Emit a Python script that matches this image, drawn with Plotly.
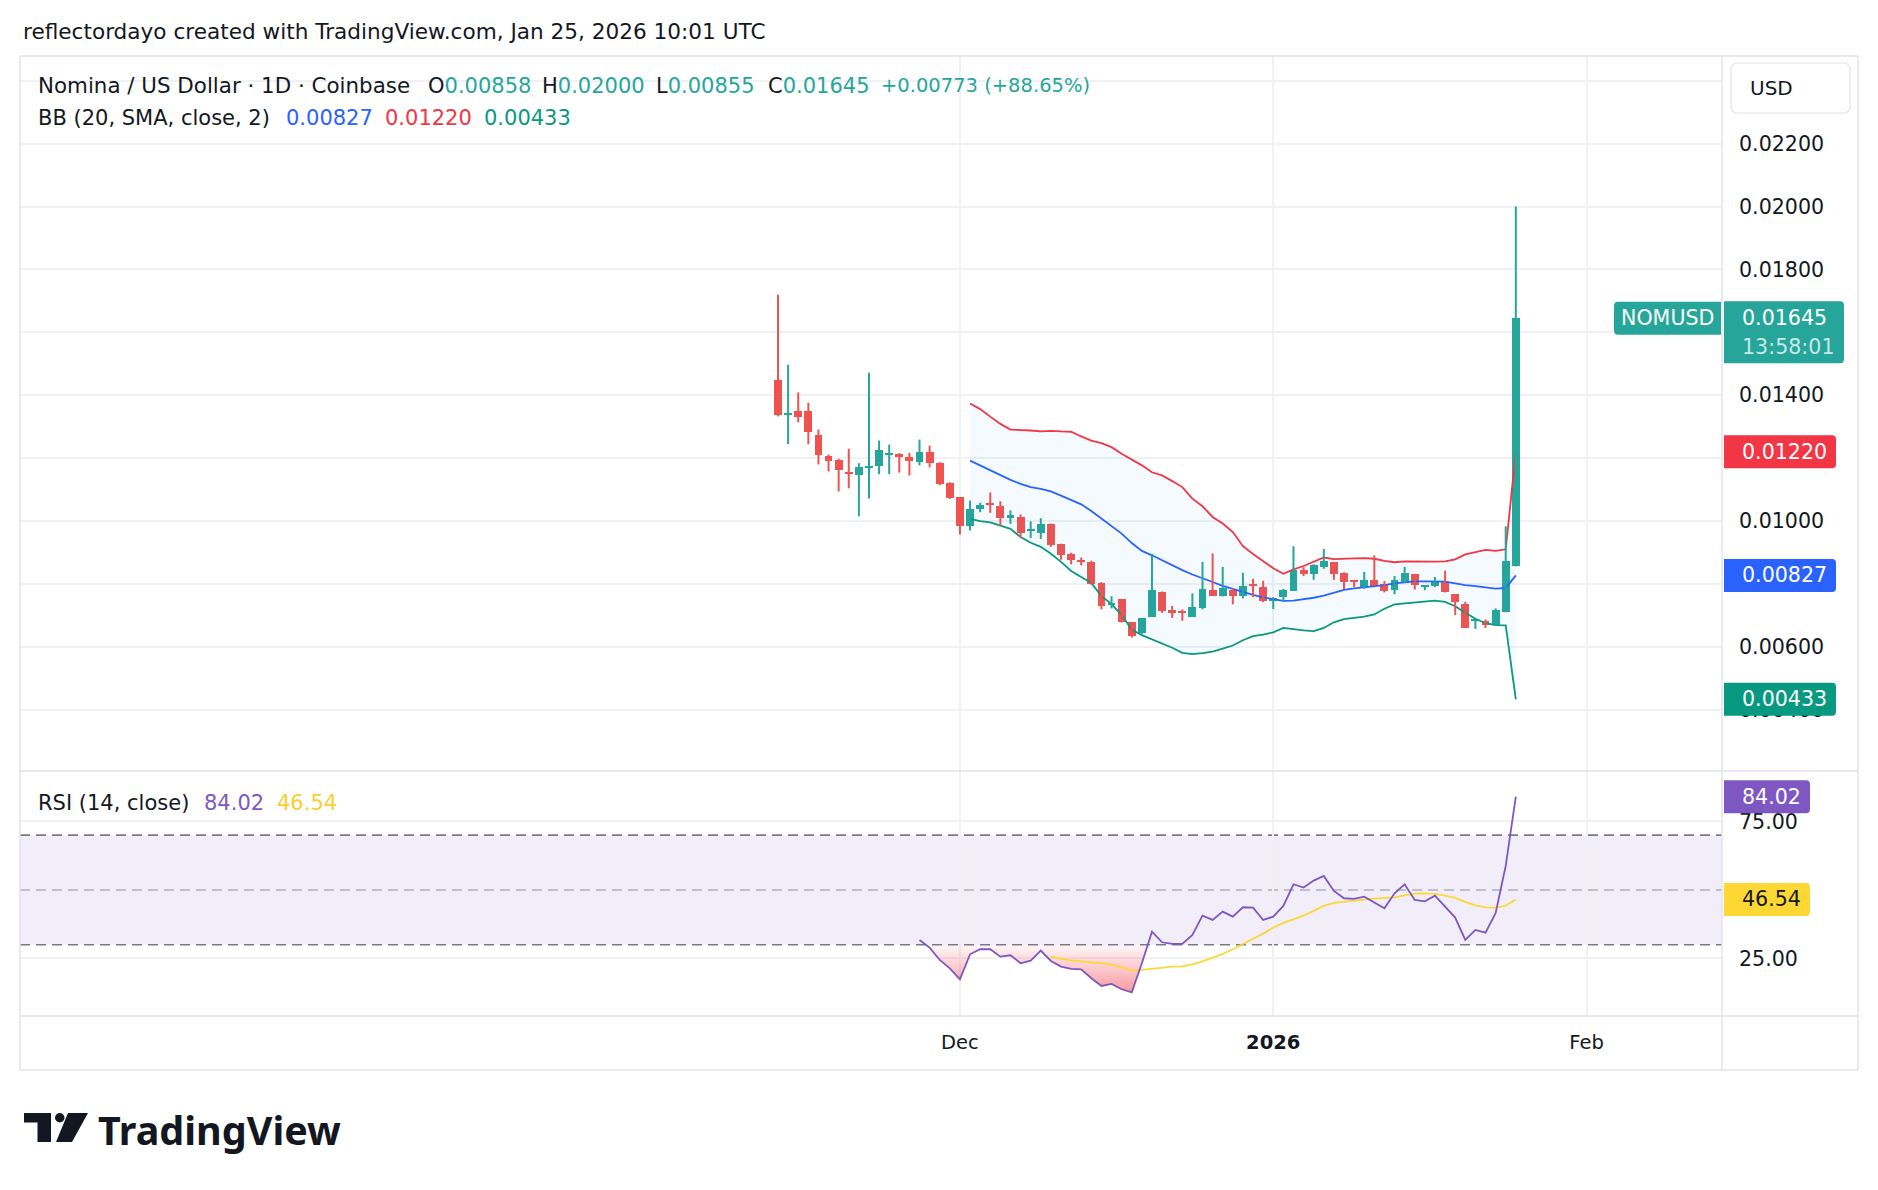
import plotly.graph_objects as go
import pandas as pd

W, H = 1878, 1190
FONT = "DejaVu Sans"
LOGO_FONT = "Noto Sans"
TXT = "#131722"
UP, DOWN = "#26a69a", "#ef5350"
BB_UP_C, BB_MID_C, BB_LO_C = "#f23645", "#2962ff", "#089981"
RSI_C, MA_C = "#7e57c2", "#fdd835"
GRID = "#f0f1f4"
FRAME = "#e0e3eb"

# ---------------- data (daily candles from 2025-11-13) ----------------
start_date = "2025-11-13"
opens = [0.01450, 0.01338, 0.01351, 0.01351, 0.01275, 0.01208, 0.01195, 0.01157, 0.01145, 0.01169,
         0.01174, 0.01212, 0.01214, 0.01205, 0.01189, 0.01221, 0.01186, 0.01122, 0.01075, 0.00984,
         0.01039, 0.01056, 0.01048, 0.01010, 0.01013, 0.00968, 0.00962, 0.00989, 0.00926, 0.00894,
         0.00877, 0.00869, 0.00802, 0.00732, 0.00751, 0.00678, 0.00643, 0.00696, 0.00774, 0.00717,
         0.00715, 0.00696, 0.00723, 0.00781, 0.00760, 0.00781, 0.00763, 0.00799, 0.00790, 0.00747,
         0.00758, 0.00779, 0.00844, 0.00830, 0.00855, 0.00870, 0.00835, 0.00813, 0.00790, 0.00813,
         0.00801, 0.00780, 0.00805, 0.00832, 0.00793, 0.00792, 0.00805, 0.00768, 0.00737, 0.00683,
         0.00683, 0.00668, 0.00710, 0.00858]
highs = [0.01720, 0.01497, 0.01409, 0.01376, 0.01291, 0.01212, 0.01198, 0.01230, 0.01184, 0.01472,
         0.01256, 0.01243, 0.01216, 0.01217, 0.01259, 0.01240, 0.01187, 0.01123, 0.01076, 0.01065,
         0.01058, 0.01091, 0.01063, 0.01034, 0.01021, 0.00999, 0.01009, 0.00992, 0.00928, 0.00899,
         0.00884, 0.00874, 0.00806, 0.00761, 0.00751, 0.00678, 0.00691, 0.00896, 0.00776, 0.00730,
         0.00719, 0.00770, 0.00870, 0.00897, 0.00854, 0.00786, 0.00835, 0.00816, 0.00810, 0.00758,
         0.00784, 0.00920, 0.00853, 0.00863, 0.00911, 0.00870, 0.00837, 0.00813, 0.00838, 0.00891,
         0.00809, 0.00825, 0.00854, 0.00832, 0.00796, 0.00822, 0.00842, 0.00768, 0.00743, 0.00687,
         0.00687, 0.00722, 0.00983, 0.02000]
lows = [0.01333, 0.01245, 0.01314, 0.01244, 0.01180, 0.01158, 0.01094, 0.01104, 0.01015, 0.01072,
        0.01149, 0.01149, 0.01154, 0.01145, 0.01177, 0.01171, 0.01114, 0.01070, 0.00957, 0.00970,
        0.01028, 0.01026, 0.00985, 0.00991, 0.00947, 0.00946, 0.00943, 0.00918, 0.00877, 0.00862,
        0.00859, 0.00798, 0.00719, 0.00722, 0.00677, 0.00629, 0.00641, 0.00696, 0.00708, 0.00692,
        0.00683, 0.00696, 0.00719, 0.00762, 0.00760, 0.00735, 0.00754, 0.00758, 0.00742, 0.00720,
        0.00744, 0.00779, 0.00825, 0.00813, 0.00848, 0.00813, 0.00783, 0.00790, 0.00784, 0.00794,
        0.00773, 0.00767, 0.00803, 0.00782, 0.00780, 0.00790, 0.00773, 0.00701, 0.00660, 0.00657,
        0.00660, 0.00668, 0.00710, 0.00855]
closes = [0.01338, 0.01345, 0.01330, 0.01282, 0.01209, 0.01192, 0.01161, 0.01152, 0.01173, 0.01173,
          0.01226, 0.01217, 0.01203, 0.01190, 0.01218, 0.01184, 0.01117, 0.01072, 0.00984, 0.01039,
          0.01052, 0.01052, 0.01009, 0.01018, 0.00962, 0.00975, 0.00989, 0.00923, 0.00893, 0.00875,
          0.00872, 0.00800, 0.00730, 0.00740, 0.00678, 0.00635, 0.00691, 0.00780, 0.00715, 0.00706,
          0.00709, 0.00728, 0.00784, 0.00763, 0.00788, 0.00763, 0.00794, 0.00794, 0.00745, 0.00755,
          0.00782, 0.00844, 0.00832, 0.00859, 0.00873, 0.00830, 0.00807, 0.00806, 0.00813, 0.00794,
          0.00776, 0.00813, 0.00835, 0.00796, 0.00796, 0.00809, 0.00773, 0.00743, 0.00660, 0.00687,
          0.00668, 0.00716, 0.00872, 0.01645]

# Bollinger Bands (20, SMA, close, 2), first value on 2025-12-02
bb_upper = [0.01374, 0.01356, 0.01332, 0.01309, 0.01291, 0.01290, 0.01288, 0.01285, 0.01287, 0.01285,
            0.01284, 0.01269, 0.01256, 0.01248, 0.01235, 0.01214, 0.01196, 0.01177, 0.01155, 0.01145,
            0.01127, 0.01108, 0.01071, 0.01047, 0.01013, 0.00992, 0.00965, 0.00920, 0.00895, 0.00871,
            0.00850, 0.00832, 0.00846, 0.00857, 0.00871, 0.00884, 0.00879, 0.00879, 0.00881, 0.00882,
            0.00880, 0.00873, 0.00869, 0.00872, 0.00871, 0.00871, 0.00871, 0.00872, 0.00878, 0.00894,
            0.00900, 0.00908, 0.00905, 0.00910, 0.01220]
bb_basis = [0.01192, 0.01177, 0.01161, 0.01145, 0.01131, 0.01118, 0.01108, 0.01102, 0.01094, 0.01081,
            0.01068, 0.01053, 0.01032, 0.01007, 0.00983, 0.00960, 0.00930, 0.00905, 0.00891, 0.00875,
            0.00859, 0.00844, 0.00830, 0.00819, 0.00806, 0.00794, 0.00784, 0.00774, 0.00765, 0.00757,
            0.00752, 0.00746, 0.00747, 0.00751, 0.00756, 0.00763, 0.00773, 0.00781, 0.00786, 0.00789,
            0.00793, 0.00796, 0.00802, 0.00806, 0.00808, 0.00808, 0.00808, 0.00807, 0.00802, 0.00796,
            0.00793, 0.00789, 0.00785, 0.00787, 0.00827]
bb_lower = [0.01007, 0.01000, 0.00996, 0.00986, 0.00975, 0.00949, 0.00931, 0.00918, 0.00896, 0.00870,
            0.00841, 0.00822, 0.00803, 0.00761, 0.00736, 0.00701, 0.00655, 0.00637, 0.00624, 0.00611,
            0.00597, 0.00581, 0.00577, 0.00580, 0.00585, 0.00594, 0.00604, 0.00621, 0.00634, 0.00639,
            0.00646, 0.00660, 0.00655, 0.00652, 0.00650, 0.00660, 0.00678, 0.00688, 0.00692, 0.00696,
            0.00703, 0.00721, 0.00735, 0.00738, 0.00740, 0.00743, 0.00747, 0.00743, 0.00729, 0.00708,
            0.00689, 0.00675, 0.00669, 0.00668, 0.00433]

# RSI (14, close), first value on 2025-11-27; RSI-based MA first value on 2025-12-10
rsi = [31.75, 28.95, 24.45, 21.41, 17.40, 26.52, 28.35, 28.35, 25.67, 26.16,
       23.24, 24.21, 27.86, 24.09, 22.02, 21.17, 21.05, 17.76, 14.96, 15.69,
       13.75, 12.65, 23.24, 34.79, 30.90, 30.29, 30.29, 33.58, 40.63, 39.05,
       42.09, 40.27, 43.67, 43.55, 39.05, 40.27, 44.16, 52.07, 50.85, 53.41,
       55.11, 49.64, 46.96, 46.72, 47.57, 45.38, 43.31, 48.78, 52.07, 46.35,
       45.86, 47.93, 43.92, 39.90, 31.75, 35.40, 34.43, 41.48, 58.76, 84.02]
rsi_ma = [25.67, 24.82, 24.33, 23.97, 23.84, 23.48, 22.87, 21.78, 20.56, 20.80,
          21.29, 21.78, 22.02, 22.14, 22.87, 23.97, 25.18, 26.64, 28.35, 30.17,
          32.24, 34.06, 36.25, 37.96, 39.29, 40.63, 42.34, 44.16, 45.26, 45.74,
          46.11, 46.47, 46.84, 47.08, 47.32, 48.05, 48.66, 48.78, 48.54, 47.93,
          47.08, 45.62, 44.40, 43.67, 43.55, 44.28, 46.54]

price_ticks = [0.004, 0.006, 0.008, 0.010, 0.012, 0.014, 0.016, 0.018, 0.020, 0.022, 0.024]
price_tick_text = ["0.00400", "0.00600", "0.00800", "0.01000", "", "0.01400",
                   "", "0.01800", "0.02000", "0.02200", ""]
rsi_ticks = [25, 75]
rsi_tick_text = ["25.00", "75.00"]
time_ticks = ["2025-12-01", "2026-01-01", "2026-02-01"]
time_tick_text = ["Dec", "<b>2026</b>", "Feb"]

dates = pd.date_range(start_date, periods=len(closes), freq="D")
bb_dates = dates[len(dates) - len(bb_upper):]
rsi_dates = dates[len(dates) - len(rsi):]
ma_dates = dates[len(dates) - len(rsi_ma):]

# ---------------- helpers for layout positions (pixels -> paper) ----------------
def px(x):
    return x / W

def py(y):
    return 1 - y / H

fig = go.Figure()

# Bollinger bands
fig.add_trace(go.Scatter(x=bb_dates, y=bb_upper, mode="lines",
                         line=dict(color=BB_UP_C, width=1.8), xaxis="x", yaxis="y", hoverinfo="skip"))
fig.add_trace(go.Scatter(x=bb_dates, y=bb_lower, mode="lines", fill="tonexty",
                         fillcolor="rgba(33,150,243,0.05)",
                         line=dict(color=BB_LO_C, width=1.8), xaxis="x", yaxis="y", hoverinfo="skip"))
fig.add_trace(go.Scatter(x=bb_dates, y=bb_basis, mode="lines",
                         line=dict(color=BB_MID_C, width=1.8), xaxis="x", yaxis="y", hoverinfo="skip"))

# candles: wicks + bodies
for is_up, col in ((True, UP), (False, DOWN)):
    wx, wy, bx, by, bb = [], [], [], [], []
    for d, o, h, l, c in zip(dates, opens, highs, lows, closes):
        if (c >= o) != is_up:
            continue
        wx += [d, d, None]
        wy += [l, h, None]
        bx.append(d)
        bb.append(min(o, c))
        by.append(max(abs(c - o), 0.00002))
    fig.add_trace(go.Scatter(x=wx, y=wy, mode="lines", line=dict(color=col, width=2),
                             xaxis="x", yaxis="y", hoverinfo="skip"))
    fig.add_trace(go.Bar(x=bx, y=by, base=bb, marker=dict(color=col, line=dict(width=0)),
                         width=86400000 * 0.78, xaxis="x", yaxis="y", hoverinfo="skip"))

# RSI oversold fill (below 30)
fx, fy = [], []
for k in range(len(rsi)):
    if k > 0:
        a, b = rsi[k - 1], rsi[k]
        if (a - 30) * (b - 30) < 0:
            t = (30 - a) / (b - a)
            fx.append(rsi_dates[k - 1] + (rsi_dates[k] - rsi_dates[k - 1]) * t)
            fy.append(30)
    fx.append(rsi_dates[k])
    fy.append(min(rsi[k], 30))
fig.add_trace(go.Scatter(x=fx, y=[30] * len(fx), mode="lines", line=dict(width=0),
                         xaxis="x2", yaxis="y2", hoverinfo="skip"))
fig.add_trace(go.Scatter(x=fx, y=fy, mode="lines", line=dict(width=0), fill="tonexty",
                         fillgradient=dict(type="vertical", start=11, stop=30,
                                           colorscale=[[0, "rgba(242,54,69,0.55)"],
                                                       [1, "rgba(242,54,69,0.04)"]]),
                         xaxis="x2", yaxis="y2", hoverinfo="skip"))
fig.add_trace(go.Scatter(x=ma_dates, y=rsi_ma, mode="lines", line=dict(color=MA_C, width=1.8),
                         xaxis="x2", yaxis="y2", hoverinfo="skip"))
fig.add_trace(go.Scatter(x=rsi_dates, y=rsi, mode="lines", line=dict(color=RSI_C, width=1.8),
                         xaxis="x2", yaxis="y2", hoverinfo="skip"))

# ---------------- axes ----------------
ref_day = pd.Timestamp("2025-12-01")
x_range = [ref_day - pd.Timedelta(days=93.0), ref_day + pd.Timedelta(days=75.4)]
x_dom = [px(20), px(1722)]
axfont = dict(family=FONT, size=20.6, color=TXT)

fig.update_layout(
    width=W, height=H, margin=dict(l=0, r=0, t=0, b=0),
    paper_bgcolor="white", plot_bgcolor="rgba(0,0,0,0)",
    showlegend=False, barmode="overlay", bargap=0,
    font=dict(family=FONT, color=TXT, size=20),
    xaxis=dict(domain=x_dom, range=x_range, type="date", anchor="y",
               tickvals=time_ticks, showticklabels=False, ticks="",
               showgrid=True, gridcolor=GRID, gridwidth=2, zeroline=False, showline=False,
               fixedrange=True),
    xaxis2=dict(domain=x_dom, range=x_range, type="date", anchor="y2", matches="x",
                tickvals=time_ticks, ticktext=time_tick_text, ticks="",
                ticklabelstandoff=12, tickfont=dict(family=FONT, size=19.5, color=TXT),
                showgrid=True, gridcolor=GRID, gridwidth=2, zeroline=False, showline=False),
    yaxis=dict(domain=[py(771), py(56)], range=[0.00205, 0.02479], side="right", anchor="x",
               tickvals=price_ticks, ticktext=price_tick_text, ticks="",
               ticklabelstandoff=16, tickfont=axfont,
               showgrid=True, gridcolor=GRID, gridwidth=2, zeroline=False, showline=False),
    yaxis2=dict(domain=[py(1016), py(771)], range=[4.0, 93.4], side="right", anchor="x2",
                tickvals=rsi_ticks, ticktext=rsi_tick_text, ticks="",
                ticklabelstandoff=16, tickfont=axfont,
                showgrid=True, gridcolor=GRID, gridwidth=2, zeroline=False, showline=False),
)

shapes = []
# RSI background band and level lines
shapes.append(dict(type="rect", xref="x2 domain", yref="y2", x0=0, x1=1, y0=30, y1=70,
                   fillcolor="rgba(126,87,194,0.10)", line=dict(width=0), layer="below"))
for lvl, colr in ((70, "#787b86"), (50, "rgba(120,123,134,0.55)"), (30, "#787b86")):
    shapes.append(dict(type="line", xref="x2 domain", yref="y2", x0=0, x1=1, y0=lvl, y1=lvl,
                       line=dict(color=colr, width=1.6, dash="10px,6px"), layer="below"))

# frame lines
def hline(y, x0=20, x1=1858):
    return dict(type="line", xref="paper", yref="paper", x0=px(x0), x1=px(x1), y0=py(y), y1=py(y),
                line=dict(color=FRAME, width=1.5), layer="above")

def vline(x, y0=56, y1=1070):
    return dict(type="line", xref="paper", yref="paper", x0=px(x), x1=px(x), y0=py(y0), y1=py(y1),
                line=dict(color=FRAME, width=1.5), layer="above")

shapes += [hline(56), hline(771), hline(1016), hline(1070), vline(20), vline(1858), vline(1722)]

# USD box with rounded corners (pixel geometry -> paper)
def rounded_rect_path(x0, y0, x1, y1, r):
    pts = [
        ("M", [(x0 + r, y0)]), ("L", [(x1 - r, y0)]), ("Q", [(x1, y0), (x1, y0 + r)]),
        ("L", [(x1, y1 - r)]), ("Q", [(x1, y1), (x1 - r, y1)]), ("L", [(x0 + r, y1)]),
        ("Q", [(x0, y1), (x0, y1 - r)]), ("L", [(x0, y0 + r)]), ("Q", [(x0, y0), (x0 + r, y0)]),
    ]
    out = []
    for cmd, ps in pts:
        out.append(cmd + " " + " ".join(f"{px(a)},{py(b)}" for a, b in ps))
    return " ".join(out) + " Z"

shapes.append(dict(type="path", xref="paper", yref="paper",
                   path=rounded_rect_path(1731, 63, 1850, 113, 7),
                   line=dict(color="#e0e3eb", width=1.2), fillcolor="white", layer="above"))

# value label boxes (anchored at the value, pixel height), right corners rounded
def vbox(value, yref, color, x0, x1, down=16.5, up=16.5, r=4):
    a, b, rx = px(x0), px(x1), r / W
    path = (f"M {a},{-down} L {b - rx},{-down} Q {b},{-down} {b},{-down + r} "
            f"L {b},{up - r} Q {b},{up} {b - rx},{up} L {a},{up} Z")
    return dict(type="path", xref="paper", yref=yref, ysizemode="pixel", yanchor=value,
                path=path, fillcolor=color, line=dict(width=0), layer="above")

def lbox(value, yref, color, x0, x1, down=16.5, up=16.5, r=4):
    a, b, rx = px(x0), px(x1), r / W
    path = (f"M {a + rx},{-down} L {b},{-down} L {b},{up} L {a + rx},{up} "
            f"Q {a},{up} {a},{up - r} L {a},{-down + r} Q {a},{-down} {a + rx},{-down} Z")
    return dict(type="path", xref="paper", yref=yref, ysizemode="pixel", yanchor=value,
                path=path, fillcolor=color, line=dict(width=0), layer="above")

last_close = closes[-1]
shapes.append(lbox(last_close, "y", UP, 1614, 1721))
shapes.append(vbox(last_close, "y", UP, 1724, 1844, 45, 17))
shapes.append(vbox(bb_upper[-1], "y", BB_UP_C, 1724, 1836))
shapes.append(vbox(bb_basis[-1], "y", BB_MID_C, 1724, 1836))
shapes.append(vbox(bb_lower[-1], "y", BB_LO_C, 1724, 1836))
shapes.append(vbox(rsi[-1], "y2", RSI_C, 1724, 1810))
shapes.append(vbox(rsi_ma[-1], "y2", MA_C, 1724, 1810))

# TradingView logo mark
def poly(points):
    return "M " + " L ".join(f"{px(x)},{py(y)}" for x, y in points) + " Z"

shapes.append(dict(type="path", xref="paper", yref="paper", fillcolor="#131722", line=dict(width=0),
                   path=poly([(24, 1113), (51, 1113), (51, 1142), (37.5, 1142), (37.5, 1122.5), (24, 1122.5)])))
shapes.append(dict(type="circle", xref="paper", yref="paper", fillcolor="#131722", line=dict(width=0),
                   x0=px(55), x1=px(64.5), y0=py(1113), y1=py(1122.5)))
shapes.append(dict(type="path", xref="paper", yref="paper", fillcolor="#131722", line=dict(width=0),
                   path=poly([(68, 1113), (88, 1113), (72, 1142), (56, 1142)])))

fig.update_layout(shapes=shapes)

ann = []
def text(x, y, s, size=20, color=TXT, anchor="left", yref="paper", yval=None, yshift=0, family=FONT):
    d = dict(x=px(x), xref="paper", xanchor=anchor, yanchor="middle", text=s, showarrow=False,
             font=dict(family=family, size=size, color=color), yshift=yshift)
    if yref == "paper":
        d.update(y=py(y), yref="paper")
    else:
        d.update(y=yval, yref=yref)
    ann.append(d)

def span(s, c):
    return f"<span style='color:{c}'>{s}</span>"

TS = 21
text(21, 31, "reflectordayo created with TradingView.com, Jan 25, 2026 10:01 UTC", size=21.6)

text(36, 86, "Nomina / US Dollar · 1D · Coinbase", size=21.4)
text(426, 86, "O" + span(f"{opens[-1]:.5f}", UP), size=TS)
text(540, 86, "H" + span(f"{highs[-1]:.5f}", UP), size=TS)
text(654, 86, "L" + span(f"{lows[-1]:.5f}", UP), size=TS)
text(766, 86, "C" + span(f"{closes[-1]:.5f}", UP), size=TS)
chg = closes[-1] - closes[-2]
text(879, 86, span(f"+{chg:.5f} (+{chg / closes[-2] * 100:.2f}%)", UP), size=19.5)

text(36, 118, "BB (20, SMA, close, 2)", size=TS)
text(284, 118, span(f"{bb_basis[-1]:.5f}", BB_MID_C), size=TS)
text(383, 118, span(f"{bb_upper[-1]:.5f}", BB_UP_C), size=TS)
text(482, 118, span(f"{bb_lower[-1]:.5f}", BB_LO_C), size=TS)

text(36, 803, "RSI (14, close)", size=TS)
text(202, 803, span(f"{rsi[-1]:.2f}", RSI_C), size=TS)
text(275, 803, span(f"{rsi_ma[-1]:.2f}", "#f9cf2f"), size=TS)

text(1748, 88, "USD", size=20)

# value label texts
LS = 20.6
text(1667, 0, "NOMUSD", size=LS, color="white", anchor="center", yref="y", yval=last_close)
text(1740, 0, f"{last_close:.5f}", size=LS, color="white", yref="y", yval=last_close)
text(1740, 0, "13:58:01", size=LS, color="rgba(255,255,255,0.75)", yref="y", yval=last_close, yshift=-29)
text(1740, 0, f"{bb_upper[-1]:.5f}", size=LS, color="white", yref="y", yval=bb_upper[-1])
text(1740, 0, f"{bb_basis[-1]:.5f}", size=LS, color="white", yref="y", yval=bb_basis[-1])
text(1740, 0, f"{bb_lower[-1]:.5f}", size=LS, color="white", yref="y", yval=bb_lower[-1])
text(1740, 0, f"{rsi[-1]:.2f}", size=LS, color="white", yref="y2", yval=rsi[-1])
text(1740, 0, f"{rsi_ma[-1]:.2f}", size=LS, color=TXT, yref="y2", yval=rsi_ma[-1])

# logo text
text(96, 1130, "<b>TradingView</b>", size=39.5, color="#131722", family=LOGO_FONT)

fig.update_layout(annotations=ann)
fig.write_html("out.html")
